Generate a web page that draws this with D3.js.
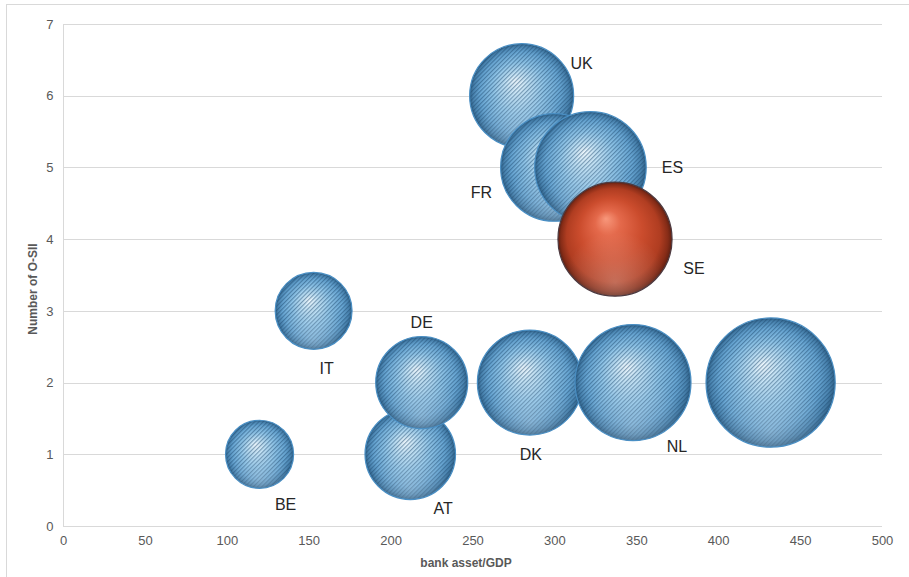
<!DOCTYPE html>
<html>
<head>
<meta charset="utf-8">
<script src="https://cdn.jsdelivr.net/npm/d3@7"></script>
<style>
  html, body { margin: 0; padding: 0; background: #ffffff; }
  svg { display: block; font-family: "Liberation Sans", Arial, sans-serif; }
</style>
</head>
<body>
<svg id="chart" width="909" height="577"></svg>
<script>
// O-SII count against banking sector size; bubble area scales with bank assets/GDP
const countries    = ["BE", "AT", "DE", "IT", "DK", "NL", "", "UK", "FR", "ES", "SE"];
const bankAssetGDP = [120, 212, 219, 153, 285, 348, 432, 280, 300, 322, 337];
const osiiCount    = [1, 1, 2, 3, 2, 2, 2, 6, 5, 5, 4];
const highlighted  = ["SE"];
const xTicks = [0, 50, 100, 150, 200, 250, 300, 350, 400, 450, 500];
const yTicks = [0, 1, 2, 3, 4, 5, 6, 7];
const xTitle = "bank asset/GDP";
const yTitle = "Number of O-SII";

// label placement relative to each bubble centre (px)
const labelOffset = {
  BE: [26, 50], AT: [33, 54], DE: [0, -60], IT: [13, 58], DK: [1, 72],
  NL: [44, 64], UK: [60, -32], FR: [-73, 25], ES: [82, 0], SE: [79, 29]
};

const svg = d3.select("#chart");
const margin = { left: 63, right: 27, top: 24, bottom: 51 };
const W = 909, H = 577;

const x = d3.scaleLinear().domain([0, 500]).range([margin.left, W - margin.right]);
const y = d3.scaleLinear().domain([0, 7]).range([H - margin.bottom, margin.top]);
const r = d3.scaleSqrt().domain([0, d3.max(bankAssetGDP)]).range([0, 64.6]);

const data = countries.map((c, i) => ({
  name: c, x: bankAssetGDP[i], y: osiiCount[i], size: bankAssetGDP[i],
  hot: highlighted.includes(c)
}));

// chart frame
svg.append("rect")
  .attr("x", 6.5).attr("y", 4.5).attr("width", 920).attr("height", 590)
  .attr("fill", "none").attr("stroke", "#d9d9d9");

const defs = svg.append("defs");

function sphere(id, stops, fx, fy) {
  const g = defs.append("radialGradient").attr("id", id)
    .attr("cx", "50%").attr("cy", "50%").attr("r", "50%")
    .attr("fx", fx).attr("fy", fy);
  stops.forEach(([o, c]) => g.append("stop").attr("offset", o).attr("stop-color", c));
}
sphere("blueShade", [
  ["0%", "#f2faff"], ["20%", "#c6e4f6"], ["50%", "#90c5e8"],
  ["78%", "#68a6d3"], ["92%", "#4a84b0"], ["100%", "#2f5f85"]
], "44%", "36%");
sphere("redShade", [
  ["0%", "#f8977b"], ["22%", "#e4694b"], ["55%", "#cb4c2d"],
  ["82%", "#b03d21"], ["94%", "#862c17"], ["100%", "#5e2012"]
], "42%", "32%");

// soft lower reflection
const refl = defs.append("radialGradient").attr("id", "reflect")
  .attr("cx", "50%").attr("cy", "88%").attr("r", "45%");
refl.append("stop").attr("offset", "0%").attr("stop-color", "#ffffff").attr("stop-opacity", 0.25);
refl.append("stop").attr("offset", "100%").attr("stop-color", "#ffffff").attr("stop-opacity", 0);

// fine diagonal hatching on the blue bubbles
const hatch = defs.append("pattern").attr("id", "hatch")
  .attr("patternUnits", "userSpaceOnUse").attr("width", 3).attr("height", 3)
  .attr("patternTransform", "rotate(45)");
hatch.append("rect").attr("x", 0).attr("y", 0).attr("width", 1.2).attr("height", 3)
  .attr("fill", "#1d4a70").attr("fill-opacity", 0.5);

// gridlines
svg.append("g").selectAll("line").data(yTicks.filter(t => t > 0)).join("line")
  .attr("x1", x(0)).attr("x2", x(500))
  .attr("y1", d => Math.round(y(d)) + 0.5).attr("y2", d => Math.round(y(d)) + 0.5)
  .attr("stroke", "#d9d9d9").attr("stroke-width", 1);

// axes
const xAxis = svg.append("g").attr("transform", `translate(0,${Math.round(y(0)) + 0.5})`)
  .call(d3.axisBottom(x).tickValues(xTicks).tickFormat(d3.format("d")).tickSize(0).tickPadding(9));
const yAxis = svg.append("g").attr("transform", `translate(${Math.round(x(0)) + 0.5},0)`)
  .call(d3.axisLeft(y).tickValues(yTicks).tickFormat(d3.format("d")).tickSize(0).tickPadding(10));
[xAxis, yAxis].forEach(a => {
  a.attr("font-size", 13).attr("font-family", "'Liberation Sans', Arial, sans-serif");
  a.select(".domain").attr("stroke", "#d9d9d9");
  a.selectAll("text").attr("fill", "#595959");
});
xAxis.select(".domain").attr("d", `M${x(0)},0H${x(500)}`);
yAxis.select(".domain").attr("d", `M0,${y(7)}V${y(0)}`);

// axis titles
svg.append("text").attr("x", 466).attr("y", 567).attr("text-anchor", "middle")
  .attr("font-size", 12).attr("font-weight", "bold").attr("fill", "#595959")
  .text(xTitle);
svg.append("text").attr("transform", "translate(37,289) rotate(-90)")
  .attr("text-anchor", "middle")
  .attr("font-size", 12).attr("font-weight", "bold").attr("fill", "#595959")
  .text(yTitle);

// bubbles
const bubbles = svg.append("g").selectAll("g").data(data).join("g")
  .attr("transform", d => `translate(${x(d.x)},${y(d.y)})`);
bubbles.append("circle").attr("r", d => r(d.size))
  .attr("fill", d => d.hot ? "url(#redShade)" : "url(#blueShade)");
bubbles.filter(d => !d.hot).append("circle").attr("r", d => r(d.size))
  .attr("fill", "url(#hatch)");
bubbles.append("circle").attr("r", d => r(d.size))
  .attr("fill", "url(#reflect)")
  .attr("stroke", d => d.hot ? "#4d3a40" : "#4a8fc4").attr("stroke-width", 1.2);

// country labels
svg.append("g").selectAll("text").data(data.filter(d => d.name)).join("text")
  .attr("x", d => x(d.x) + labelOffset[d.name][0])
  .attr("y", d => y(d.y) + labelOffset[d.name][1])
  .attr("text-anchor", "middle").attr("dominant-baseline", "central")
  .attr("font-size", 16).attr("fill", "#262626")
  .text(d => d.name);
</script>
</body>
</html>
